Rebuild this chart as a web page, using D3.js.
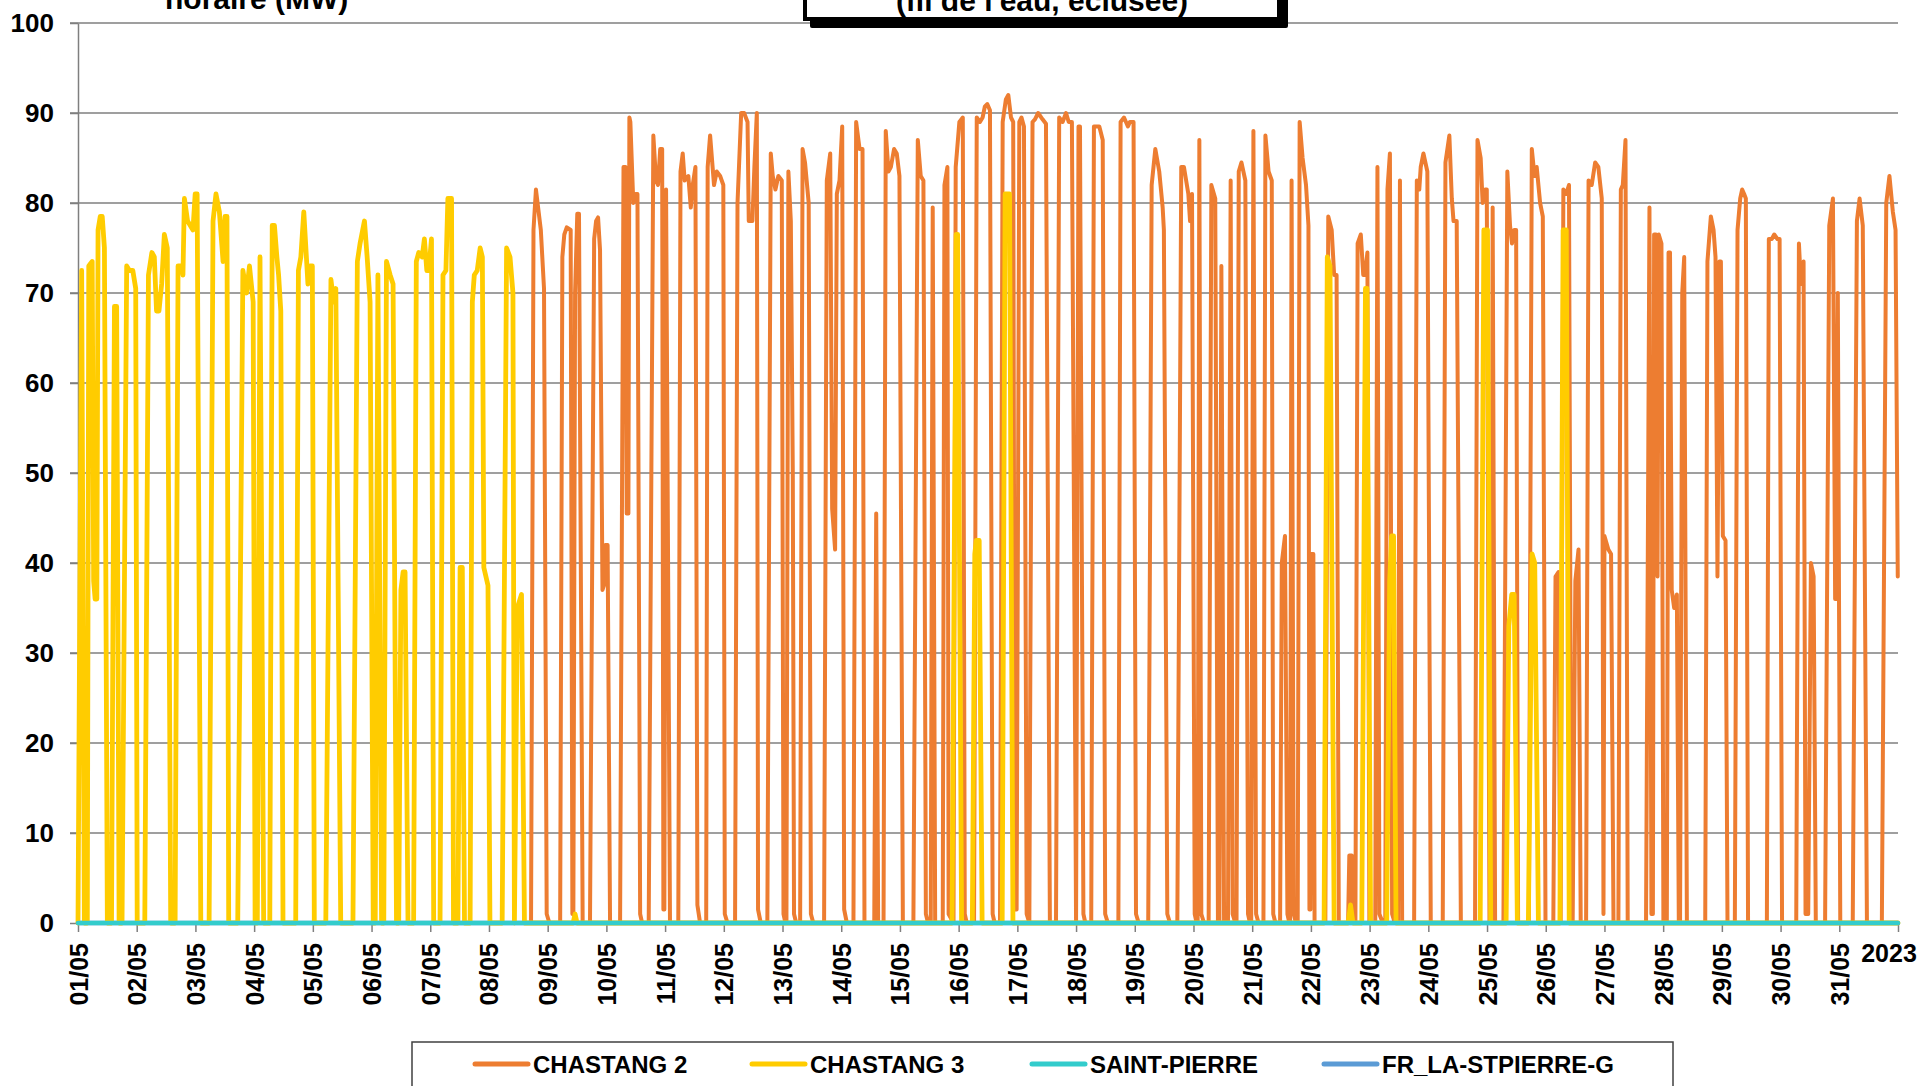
<!DOCTYPE html>
<html><head><meta charset="utf-8">
<script src="https://cdn.jsdelivr.net/npm/d3@7"></script>
<style>
html,body{margin:0;padding:0;background:#fff;overflow:hidden;}
svg{display:block;font-family:"Liberation Sans",Arial,Helvetica,sans-serif;font-weight:bold;}
</style></head><body>
<svg id="chart" width="1920" height="1086"></svg>
<script>
// ---- data ----
const dayLabels = ["01/05","02/05","03/05","04/05","05/05","06/05","07/05","08/05","09/05","10/05","11/05","12/05","13/05","14/05","15/05","16/05","17/05","18/05","19/05","20/05","21/05","22/05","23/05","24/05","25/05","26/05","27/05","28/05","29/05","30/05","31/05"];
const yearLabel = "2023";
const yTicks = [0,10,20,30,40,50,60,70,80,90,100];
const seriesNames = ["CHASTANG 2","CHASTANG 3","SAINT-PIERRE","FR_LA-STPIERRE-G"];
const seriesColors = ["#ED7D31","#FFCC00","#33CCCC","#5B9BD5"];
const titleLeft = "horaire (MW)";
const titleBox = "(fil de l'eau, éclusée)";

// [hour since 01/05 00:00, MW]
const chastang2 = [
[0,0],[185.2,0],[186.2,77],[187.2,81.5],[189.2,77],[190.5,70.5],[191.6,1],[192.7,0],
[197.1,0],[198.0,74],[198.8,76.5],[199.8,77.3],[201.4,77],[202.1,1],[202.5,1],[203.2,70],[204.1,78.8],[204.8,78.8],[206.3,0],
[209.3,0],[211.0,76],[211.8,78],[212.6,78.4],[213.4,74.8],[214.4,37],[215.0,37.5],[215.6,42],[216.5,42],[217.5,0],
[221.6,0],[223.0,84],[223.8,84],[224.3,45.5],[225.0,45.5],[225.4,89.5],[225.8,89],[227.0,80],[227.9,81],[228.7,81],[229.8,1],[230.6,0],
[233.3,0],[235.2,87.5],[236.3,82.5],[237.1,82],[238.0,86],[238.8,86],[239.3,1.5],[239.7,1.5],[240.4,81.5],[242.0,0],
[245.4,0],[246.3,83.5],[247.2,85.5],[248.0,82.5],[249.5,83],[250.5,79.5],[251.3,82],[252.4,84],[253.2,2],[254.3,0],
[256.8,0],[257.4,84],[258.4,87.5],[260.0,82],[261.1,83.5],[262.5,83],[263.8,82],[264.4,1],[265.5,0],
[268.6,0],[269.6,80],[271.1,90],[272.3,90],[273.7,89],[274.2,78],[275.7,78],[276.5,84],[277.5,90],[278.0,1.5],[279.1,0],
[281.8,0],[283.2,85.5],[284.0,83],[285.1,81.5],[286.3,83],[287.7,82.5],[288.4,1],[289.2,0],[289.6,0],[290.4,83.5],[291.4,78],[292.2,50],[292.7,1],[293.6,0],
[295.2,0],[296.2,86],[297.2,84.5],[298.7,80],[299.6,1],[300.6,0],
[305.0,0],[306.1,82.5],[307.5,85.5],[308.3,46],[309.5,41.5],[310.2,81],[311.3,82.5],[312.4,88.5],[313.2,1.5],[314.3,0],
[317.0,0],[318.1,89],[319.5,86],[320.7,86],[321.5,0],
[325.5,0],[326.3,45.5],[327.1,0],[329.3,0],[330.2,88],[331.3,83.5],[332.3,84],[333.6,86],[334.7,85.5],[335.8,83],[337.2,0],
[341.5,0],[343.3,87],[344.5,83],[345.6,82.5],[346.6,1],[347.5,0],[348.6,0],[349.4,79.5],[350.4,0],
[353.5,0],[354.2,82],[355.4,84],[355.9,1],[357.9,0],[358.8,84],[360.3,89],[361.7,89.5],[362.5,1],[363.3,0],
[366.3,0],[367.4,89.5],[368.7,89],[369.8,89.5],[370.7,90.7],[371.7,91],[372.8,90.3],[373.9,1],[374.7,0],
[376.9,0],[378.0,89],[379.3,91.5],[380.3,92],[381.4,89.5],[382.3,89],[383.0,1.5],[383.7,1.5],[384.8,89],[385.7,89.5],[386.7,88.5],[387.8,1],[388.9,0],
[390.2,89],[391.2,89.3],[392.5,90],[394.3,89.3],[395.7,88.8],[397.3,0],
[399.8,0],[401.1,89.5],[402.5,89],[403.9,90],[405.0,89],[406.3,89],[408.0,0],[409.0,88.5],[409.6,88.5],[411.0,1],[411.8,0],
[414.2,0],[415.3,88.5],[417.5,88.5],[418.9,87],[419.9,1],[421.0,0],
[425.3,0],[426.2,89],[427.6,89.5],[429.2,88.5],[430.0,89],[431.5,89],[432.5,1],[433.6,0],
[437.5,0],[438.9,82],[440.4,86],[442.0,83.5],[443.4,79.5],[443.9,77],[445.3,1],[446.4,0],
[449.4,0],[451.0,84],[452.1,84],[453.9,81],[454.6,78],[455.4,81],[456.5,1],[457.3,0],[457.7,0],[458.4,87],[459.2,1],[460.3,0],
[462.2,0],[463.3,82],[464.9,80.5],[466.0,0],[466.6,0],[467.4,73],[468.5,0],
[470.1,0],[471.2,82.5],[472.0,1],[473.1,0],[473.6,0],[474.5,83.5],[475.6,84.5],[477.2,82.5],[478.3,1],[479.1,0],
[479.6,0],[480.5,88],[481.6,1],[482.6,0],
[484.6,0],[485.4,87.5],[486.7,83.5],[488.0,82.5],[488.6,1],[489.5,0],
[491.4,0],[492.1,40],[493.4,43],[494.4,1],[495.2,0],[495.5,0],[496.1,82.5],[497.0,1],[497.9,0],
[498.6,0],[499.4,89],[500.6,85],[502.0,82],[503.0,77.5],[503.4,1.5],[503.8,1.5],[504.2,41],[505.0,41],[505.5,0],
[509.9,0],[511.1,78.5],[512.5,77],[513.5,72],[514.5,72],[515.4,0],
[519.2,0],[519.7,7.5],[520.7,7.5],[521.1,0],
[522.2,0],[523.1,75.5],[524.4,76.5],[525.4,72],[526.1,72],[527.1,74.5],[527.9,0],
[530.3,0],[531.2,84],[532.0,1],[533.4,0],[534.4,0],[535.3,81.5],[536.3,85.5],[537.2,1],[538.3,0],
[539.6,0],[540.4,82.5],[541.3,0],
[546.2,0],[547.3,82.5],[548.3,81.5],[548.9,84],[550.0,85.5],[551.6,83.5],[553.0,0],
[557.9,0],[559.0,84.5],[560.6,87.5],[561.6,80.5],[562.3,78],[563.6,78],[565.3,0],
[571.1,0],[572.1,87],[573.4,85],[574.2,80],[575.2,81.5],[575.9,81.5],[577.0,0],[577.7,0],[578.3,79.5],[579.3,0],
[582.7,0],[584.3,83.5],[585.4,77.5],[586.2,75.5],[587.1,77],[587.9,77],[588.7,0],
[593.1,0],[594.3,86],[595.4,83],[596.3,84],[597.7,80],[598.8,78.5],[599.9,0],
[603.1,0],[604.0,38.5],[605.2,39],[605.9,0],[606.1,0],[607.2,81.5],[608.3,81],[609.5,82],[610.5,0],
[611.0,0],[612.1,38],[613.4,41.5],[614.3,0],
[616.5,0],[617.5,82.5],[618.8,82],[620.2,84.5],[621.5,84],[622.9,80.5],[623.6,1],[624.0,43],[625.6,41.5],[626.7,41],[627.7,0],
[629.7,0],[630.7,81.5],[631.5,82],[632.6,87],[633.5,0],
[641.0,0],[642.4,79.5],[643.2,1],[643.8,1],[644.3,76.5],[645.1,76.5],[645.7,38.5],[646.2,76.5],[647.3,75.5],[648.1,0],
[649.5,0],[650.2,74.5],[650.8,74.5],[651.5,37],[652.5,35],[653.6,36.5],[654.4,0],[654.9,0],[655.8,70],[656.6,74],[657.7,0],
[665.2,0],[666.1,73.5],[667.5,78.5],[668.6,77],[669.4,74],[670.2,38.5],[671.0,73.5],[671.6,73.5],[672.4,43],[673.5,42.5],[674.3,0],
[677.3,0],[678.4,77],[679.5,80.5],[680.3,81.5],[681.1,81],[681.8,80.5],[682.7,0],
[690.4,0],[691.2,76],[692.4,76],[693.4,76.5],[694.7,76],[695.6,76],[696.6,0],
[702.4,0],[703.5,75.5],[704.3,71],[705.4,73.5],[706.2,1],[707.3,1],[708.4,40],[709.5,38.5],[710.4,0],
[714.2,0],[715.9,77.5],[717.4,80.5],[718.3,36],[718.7,36],[719.4,70],[720.4,0],
[725.5,0],[727.2,78],[728.3,80.5],[729.6,77.5],[731.3,0],
[737.4,0],[739.2,80],[740.5,83],[741.9,79],[743.0,77],[743.9,38.5]
];

const chastang3 = [
[0,0],[1.5,72.5],[2.6,0],[3.8,0],[4.4,73],[5.8,73.5],[6.4,38],[7.0,36],[7.7,36],[8.2,77],[9.1,78.5],[9.9,78.5],[10.8,75],[12.0,0],
[13.7,0],[14.9,68.5],[15.8,68.5],[16.8,0],[18.0,0],[19.9,73],[21.0,72.5],[22.4,72.5],[23.6,70.5],[24.2,0],
[27.3,0],[28.8,72],[30.2,74.5],[31.2,74],[32.1,68],[33.1,68],[34.2,71],[35.3,76.5],[36.5,75],[37.9,0],
[39.7,0],[40.9,73],[42.6,73],[42.9,72],[43.5,80.5],[44.8,78],[47.0,77],[47.9,81],[48.7,81],[50.2,0],
[53.6,0],[55.2,78],[56.4,81],[57.8,79],[59.3,73.5],[60.1,78.5],[60.9,78.5],[61.6,0],
[65.3,0],[67.4,72.5],[68.9,70],[70.1,73],[71.6,69],[72.4,0],[73.3,0],[74.4,74],[75.9,0],
[78.4,0],[79.4,77.5],[80.3,77.5],[81.3,74],[82.0,72],[82.9,68],[83.8,0],
[89.0,0],[90.1,72.5],[91.1,74],[92.3,79],[94.0,71],[94.9,73],[95.8,73],[96.6,0],
[101.3,0],[103.4,71.5],[104.5,69],[105.4,70.5],[107.4,0],
[112.4,0],[114.2,73.5],[115.3,75.5],[117.1,78],[118.2,74],[119.4,69],[120.7,0],[121.5,0],[122.6,72],[124.1,0],
[125.0,0],[126.1,73.5],[127.6,72],[128.8,71],[130.2,0],[131.1,0],[132.0,37],[132.9,39],[133.7,39],[134.9,0],
[137.2,0],[138.3,73.5],[139.3,74.5],[140.7,74],[141.6,76],[142.6,72.5],[143.4,72.5],[144.5,76],[145.4,0],
[148.0,0],[149.2,72],[150.4,72.5],[151.2,80.5],[152.7,80.5],[153.5,0],[155.3,0],[156.2,39.5],[157.1,39.5],[158.0,0],
[160.3,0],[161.2,69],[162.0,72],[163.2,72.5],[164.4,75],[165.3,74],[165.9,39.5],[167.6,37.5],[168.4,0],
[173.4,0],[175.2,75],[176.6,74],[177.8,70],[178.4,0],[179.6,35],[181.3,36.5],[182.5,0],
[202.4,0],[203.2,1],[204.0,0],
[357.3,0],[359.0,76.5],[359.6,76.5],[361.2,0],
[365.6,0],[366.6,41],[367.2,42.5],[368.4,42.5],[369.6,0],
[377.8,0],[379.0,81],[380.8,81],[382.2,0],
[509.4,0],[510.7,74],[511.8,73],[513.5,0],
[519.2,0],[520.2,2],[521.2,0],
[524.8,0],[526.3,70.5],[526.9,70.5],[528.4,0],
[535.0,0],[536.2,38],[537.0,43],[537.8,43],[538.8,0],
[573.2,0],[574.7,77],[576.2,77],[577.5,0],
[583.8,0],[584.9,33],[586.1,36.5],[587.1,36.5],[588.4,0],
[592.9,0],[594.4,41],[595.5,40],[597.0,0],
[605.8,0],[607.1,77],[608.4,77],[609.6,0],
[744,0]
];
const saintPierre = [[0,0],[744,0]];
const frLaStpierreG = [[0,0],[744,0]];

// ---- drawing ----
const svg = d3.select("#chart");
const X0 = 78, X1 = 1898, Y0 = 923, Y1 = 23;
const x = d3.scaleLinear().domain([0, 744]).range([X0, X1]);
const y = d3.scaleLinear().domain([0, 100]).range([Y0, Y1]);
const gridColor = "#7f7f7f";

// gridlines
svg.append("g").selectAll("line").data(yTicks.filter(d => d > 0)).join("line")
  .attr("x1", X0 - 8).attr("x2", X1)
  .attr("y1", d => y(d)).attr("y2", d => y(d))
  .attr("stroke", gridColor).attr("stroke-width", 1.5);

// y axis
const yAxis = svg.append("g").attr("transform", `translate(${X0},0)`)
  .call(d3.axisLeft(y).tickValues(yTicks).tickSize(8).tickSizeOuter(0).tickPadding(16).tickFormat(d3.format("d")));
yAxis.select(".domain").attr("stroke", gridColor).attr("stroke-width", 1.5);
yAxis.selectAll(".tick line").attr("stroke", gridColor).attr("stroke-width", 1.5);
yAxis.selectAll("text").attr("font-size", 26).attr("font-weight", "bold")
  .attr("font-family", '"Liberation Sans",Arial,sans-serif').attr("fill", "#000");

// x axis
const dayTicks = d3.range(0, dayLabels.length + 1).map(i => i * 24);
const xAxis = svg.append("g").attr("transform", `translate(0,${Y0})`)
  .call(d3.axisBottom(x).tickValues(dayTicks).tickSize(9).tickSizeOuter(0)
    .tickFormat((d, i) => i < dayLabels.length ? dayLabels[i] : ""));
xAxis.select(".domain").attr("stroke", gridColor).attr("stroke-width", 1.5);
xAxis.selectAll(".tick line").attr("stroke", gridColor).attr("stroke-width", 1.5);
xAxis.selectAll("text")
  .attr("font-size", 25).attr("font-weight", "bold")
  .attr("font-family", '"Liberation Sans",Arial,sans-serif').attr("fill", "#000")
  .attr("text-anchor", "end").attr("transform", "rotate(-90)")
  .attr("x", -20).attr("y", 0).attr("dy", "0.36em");
svg.append("text").attr("x", x(744) - 9).attr("y", 962)
  .attr("text-anchor", "middle").attr("font-size", 25).attr("fill", "#000").text(yearLabel);

// lines
const line = d3.line().x(d => x(d[0])).y(d => y(d[1]));
const drawOrder = [
  {data: frLaStpierreG, color: seriesColors[3], w: 4.5},
  {data: chastang2, color: seriesColors[0], w: 4},
  {data: chastang3, color: seriesColors[1], w: 4.8},
  {data: saintPierre, color: seriesColors[2], w: 4.5}
];
svg.append("g").selectAll("path").data(drawOrder).join("path")
  .attr("d", s => line(s.data)).attr("fill", "none")
  .attr("stroke", s => s.color).attr("stroke-width", s => s.w)
  .attr("stroke-linejoin", "round").attr("stroke-linecap", "round");

// titles (partly cut off by the top edge, as in the original)
svg.append("text").attr("x", 165).attr("y", 9).attr("font-size", 30).attr("fill", "#000").text(titleLeft);
svg.append("rect").attr("x", 810).attr("y", -40).attr("width", 478).attr("height", 68).attr("rx", 2).attr("fill", "#000");
svg.append("rect").attr("x", 805).attr("y", -40).attr("width", 474).attr("height", 59)
  .attr("fill", "#fff").attr("stroke", "#000").attr("stroke-width", 4);
svg.append("text").attr("x", 1042).attr("y", 11).attr("text-anchor", "middle")
  .attr("font-size", 30).attr("fill", "#000").text(titleBox);

// legend
const legend = svg.append("g");
legend.append("rect").attr("x", 412).attr("y", 1042).attr("width", 1261).attr("height", 70)
  .attr("fill", "#fff").attr("stroke", "#404040").attr("stroke-width", 1.5);
const legendX = [475, 752, 1032, 1324];
const items = legend.selectAll("g.item").data(seriesNames).join("g").attr("class", "item")
  .attr("transform", (d, i) => `translate(${legendX[i]},1064)`);
items.append("line").attr("x1", 0).attr("x2", 53).attr("y1", 0).attr("y2", 0)
  .attr("stroke", (d, i) => seriesColors[i]).attr("stroke-width", 5).attr("stroke-linecap", "round");
items.append("text").attr("x", 58).attr("y", 0).attr("dy", "0.36em")
  .attr("font-size", 24).attr("fill", "#000").text(d => d);
</script>
</body></html>
